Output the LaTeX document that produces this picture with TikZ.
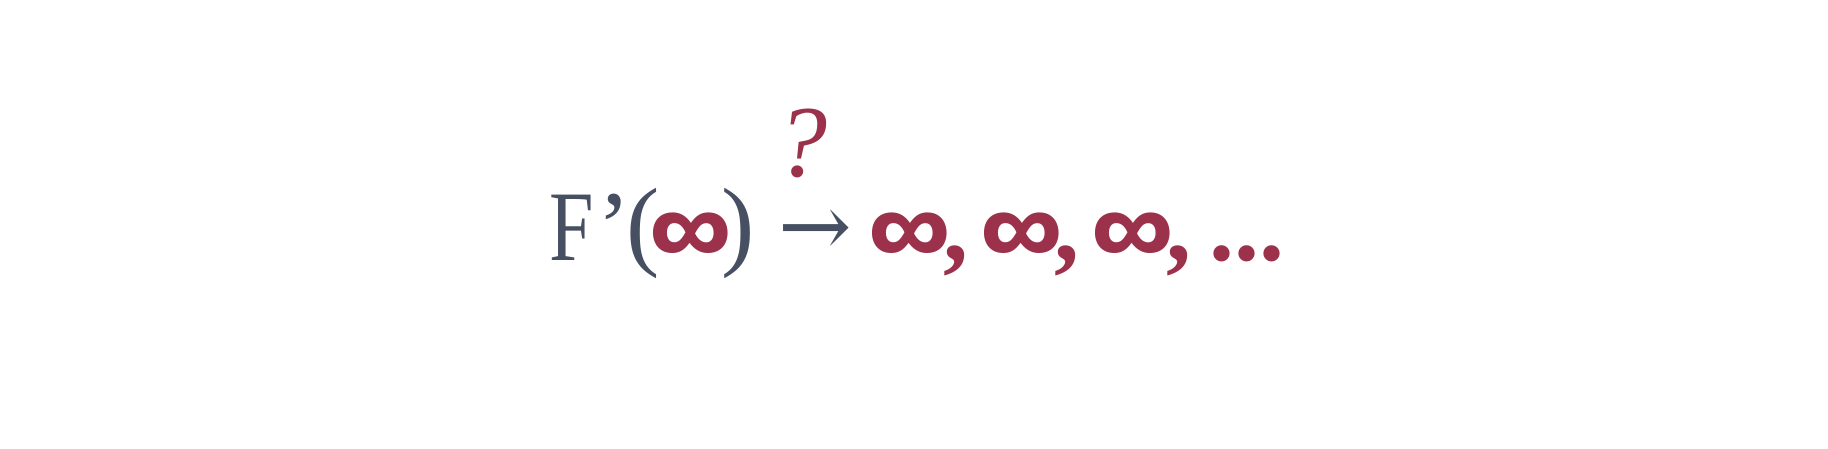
\documentclass[tikz,border=0pt]{standalone}
\usepackage{fontspec}
\setmainfont{Liberation Serif}
\newfontfamily\arrowfont{DejaVu Serif}
\newfontfamily\symfont{Fira Sans}
\usetikzlibrary{positioning}
\definecolor{slate}{HTML}{475063}
\definecolor{crimson}{HTML}{9B314B}

\begin{document}
\begin{tikzpicture}[x=0.01cm,y=-0.01cm,
  txt/.style={inner sep=0pt,anchor=base,font=\fontsize{28.4}{32}\selectfont},
  lhs/.style={txt,text=slate},
  inf/.style={txt,text=crimson,font=\fontsize{28.4}{32}\selectfont\bfseries},
  infsym/.style={txt,text=crimson,font=\fontsize{25.5}{30}\symfont\bfseries}]
\useasboundingbox (0,0) rectangle (1828,449);
% left hand side
\node[lhs] (fun) at (571.5,261) {\scalebox{0.8}[1]{F}};
\node[lhs] (prime) at (614.5,261) {’};
\node[lhs] (lpar) at (643.5,258) {(};
\node[infsym] (arg) at (691,262) {∞};
\node[lhs] (rpar) at (738,258) {)};
% arrow and question mark
\node[lhs,font=\fontsize{25}{30}\arrowfont] (arr) at (815.5,257) {→};
\node[inf,font=\fontsize{29}{32}\selectfont\itshape] (ask) at (801.5,177) {?};
% right hand side
\foreach \x/\n in {910/a,1021.5/b,1133/c} {
  \node[infsym] (inf\n) at (\x,262) {∞};
  \node[inf] (com\n) at (\x+45.5,261) {,};
}
\node[inf] (dots) at (1247,261) {...};
\end{tikzpicture}
\end{document}
